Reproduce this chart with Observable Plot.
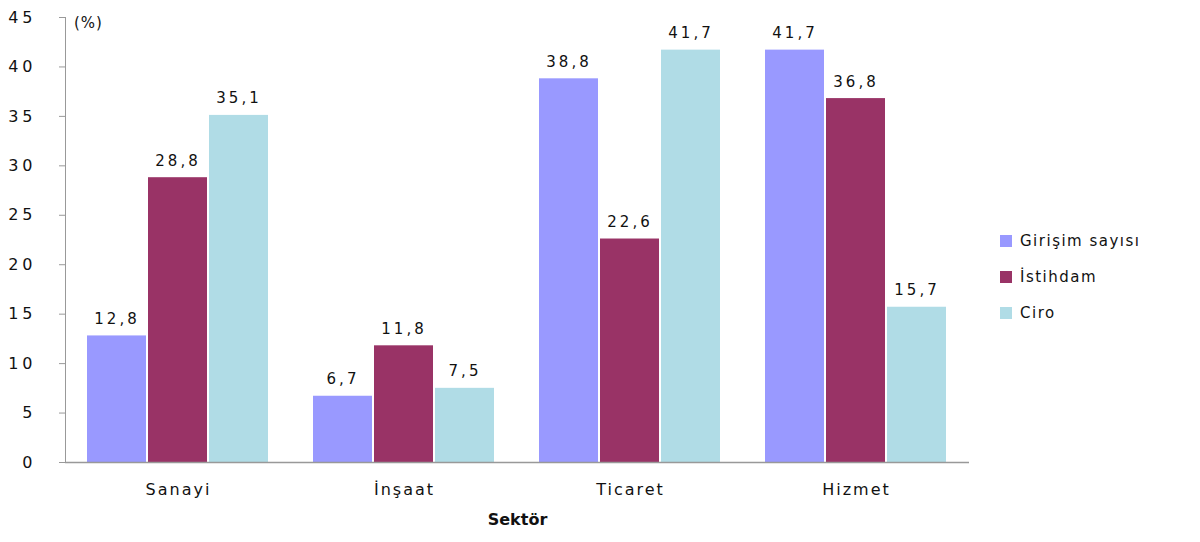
<!DOCTYPE html>
<html>
<head>
<meta charset="utf-8">
<script src="https://cdn.jsdelivr.net/npm/d3@7"></script>
<script src="https://cdn.jsdelivr.net/npm/@observablehq/plot@0.6"></script>
<style>
  html, body { margin: 0; padding: 0; background: #fff; }
  #wrap { position: relative; width: 1200px; height: 542px; font-family: "DejaVu Sans", Verdana, sans-serif; }
  #legend { position: absolute; left: 1000px; top: 223px; font-size: 15px; letter-spacing: 1.5px; color: #111; }
  #legend .item { display: flex; align-items: center; height: 36px; }
  #legend .sw { width: 12px; height: 12px; margin-right: 8px; }
  #pct { position: absolute; left: 74px; top: 14px; font-size: 15px; color: #111; letter-spacing: 1px; }
  #chart g[aria-label="y-axis tick label"] text { letter-spacing: 4px; font-size: 16px; }
  #chart g[aria-label="fx-axis tick label"] text { letter-spacing: 2px; font-size: 16px; }
  #chart g[aria-label="text"] text { letter-spacing: 3px; }
</style>
</head>
<body>
<div id="wrap">
  <div id="chart"></div>
  <div id="pct">(%)</div>
  <div id="legend"></div>
</div>
<script>
const sectors = ["Sanayi", "İnşaat", "Ticaret", "Hizmet"];
const series = ["Girişim sayısı", "İstihdam", "Ciro"];
const colors = ["#9999ff", "#993366", "#b0dce6"];
const girisim = [12.8, 6.7, 38.8, 41.7];
const istihdam = [28.8, 11.8, 22.6, 36.8];
const ciro = [35.1, 7.5, 41.7, 15.7];
const yTicks = [0, 5, 10, 15, 20, 25, 30, 35, 40, 45];

const values = [girisim, istihdam, ciro];
const data = [];
sectors.forEach((s, i) => series.forEach((k, j) => data.push({sector: s, series: k, value: values[j][i]})));
const fmt = v => v.toFixed(1).replace(".", ",");

const chart = Plot.plot({
  width: 1200,
  height: 542,
  marginLeft: 63,
  marginRight: 230,
  marginTop: 17,
  marginBottom: 80,
  style: {fontFamily: "DejaVu Sans, Verdana, sans-serif", fontSize: "15px", color: "#111"},
  fx: {domain: sectors, paddingInner: 0, paddingOuter: 0, label: null},
  x: {domain: series, paddingInner: 0.03, paddingOuter: 0.36, axis: null},
  y: {domain: [0, 45], ticks: yTicks, label: null},
  color: {domain: series, range: colors},
  marks: [
    Plot.axisY({ticks: yTicks, tickSize: 6, tickPadding: 23, stroke: "#999", fill: "#111", label: null}),
    Plot.axisFx({anchor: "bottom", tickSize: 0, tickPadding: 21, label: "Sektör", labelAnchor: "center", labelOffset: 62}),
    Plot.barY(data, {fx: "sector", x: "series", y: "value", fill: "series"}),
    Plot.text(data, {fx: "sector", x: "series", y: "value", text: d => fmt(d.value), lineAnchor: "bottom", dy: -12, fontSize: 15, fill: "#111"}),
    Plot.ruleY([0], {stroke: "#999", strokeWidth: 1.5}),
    Plot.frame({anchor: "left", facetAnchor: "left", stroke: "#999"})
  ]
});
document.getElementById("chart").appendChild(chart);
d3.select(chart).selectAll("text").filter(function() { return this.textContent === "Sektör"; }).attr("font-weight", "bold").style("font-size", "16px");

const legend = document.getElementById("legend");
series.forEach((s, i) => {
  const item = document.createElement("div");
  item.className = "item";
  item.innerHTML = `<div class="sw" style="background:${colors[i]}"></div><span>${s}</span>`;
  legend.appendChild(item);
});
</script>
</body>
</html>
